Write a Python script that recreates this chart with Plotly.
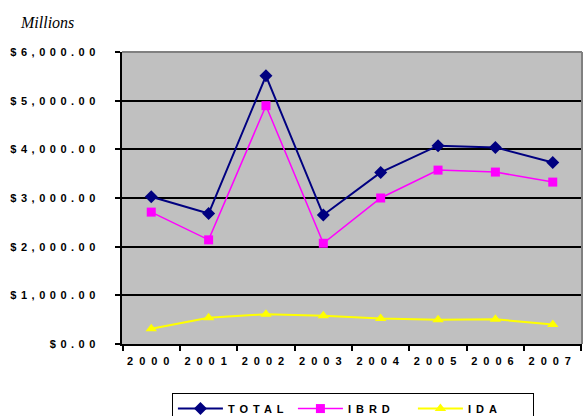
import plotly.graph_objects as go

years = ["2000", "2001", "2002", "2003", "2004", "2005", "2006", "2007"]
total = [3025, 2680, 5510, 2650, 3525, 4075, 4040, 3730]
ibrd = [2710, 2140, 4897, 2070, 3000, 3573, 3533, 3327]
ida = [315, 540, 613, 580, 525, 500, 507, 403]

bold = dict(family="Liberation Sans, Arial", size=11, color="black", weight="bold")

fig = go.Figure()
fig.add_trace(go.Scatter(x=years, y=total, name="TOTAL", mode="lines+markers",
                         line=dict(color="#000080", width=2),
                         marker=dict(symbol="diamond", size=10, color="#000080")))
fig.add_trace(go.Scatter(x=years, y=ibrd, name="IBRD", mode="lines+markers",
                         line=dict(color="#FF00FF", width=1.5),
                         marker=dict(symbol="square", size=9, color="#FF00FF")))
fig.add_trace(go.Scatter(x=years, y=ida, name="IDA", mode="lines+markers",
                         line=dict(color="#FFFF00", width=2),
                         marker=dict(symbol="triangle-up", size=10, color="#FFFF00")))

fig.update_layout(
    width=588, height=416,
    margin=dict(l=122, r=6, t=52, b=72, autoexpand=False),
    paper_bgcolor="white", plot_bgcolor="#C0C0C0",
    showlegend=True,
    legend=dict(orientation="h", x=0.502, xanchor="center", y=-0.168, yanchor="top",
                bordercolor="black", borderwidth=1, font=bold,
                itemwidth=45, entrywidth=60, bgcolor="white",
                traceorder="normal"),
    annotations=[dict(text="Millions", xref="paper", yref="paper", x=-0.226, y=1.065,
                      xanchor="left", yanchor="bottom", showarrow=False,
                      font=dict(family="Liberation Serif, Times New Roman", size=16,
                                style="italic", color="black"))],
    shapes=[
        dict(type="line", xref="paper", yref="paper", x0=0, x1=1, y0=1, y1=1,
             line=dict(color="#808080", width=2)),
        dict(type="line", xref="paper", yref="paper", x0=1, x1=1, y0=0, y1=1,
             line=dict(color="#808080", width=2)),
    ],
)
fig.update_xaxes(type="category", tickson="boundaries", ticks="outside", ticklen=5,
                 tickcolor="black", tickwidth=1.5, showline=True, linecolor="black",
                 linewidth=2, showgrid=False, tickfont=bold, ticklabelstandoff=6)
fig.update_yaxes(range=[0, 6000], dtick=1000, tickprefix="$", tickformat=",.2f",
                 ticks="outside", ticklen=5, tickcolor="black", tickwidth=1.5,
                 showline=True, linecolor="black", linewidth=2,
                 showgrid=True, gridcolor="black", gridwidth=1.5,
                 zeroline=False, tickfont=bold, ticklabelstandoff=13)

post = """
document.body.style.margin='0';
var gd = document.getElementById('{plot_id}');
gd.querySelectorAll('.ytick text').forEach(function(e){e.style.letterSpacing='4.5px';});
gd.querySelectorAll('.xtick text').forEach(function(e){e.style.letterSpacing='6px';});
gd.querySelectorAll('.legendtext').forEach(function(e){e.style.letterSpacing='5px';});
"""
fig.write_html("out.html", post_script=post, config={"displayModeBar": False})
